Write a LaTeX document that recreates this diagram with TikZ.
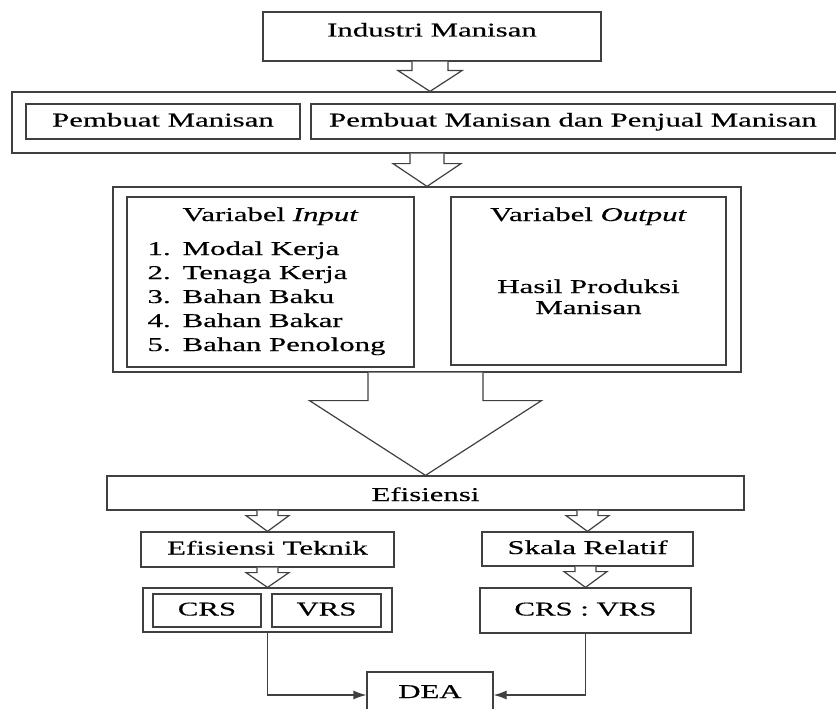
\documentclass[tikz,border=0pt]{standalone}
\usepackage{fontspec}
\setmainfont{Liberation Serif}[FakeStretch=1.58, FakeBold=0.4]
\usetikzlibrary{calc, arrows.meta}

% hollow block arrow pointing down: from, to, stem half, neck, head half
\newcommand{\blockdown}[5]{%
  \coordinate (#1-#2) at (#2.north |- #1.south);
  \draw[fat] ($(#1-#2)+(-#3,0)$) -- ($(#1-#2)+(-#3,#4)$) -- ($(#1-#2)+(-#5,#4)$) -- (#2.north)
    -- ($(#1-#2)+(#5,#4)$) -- ($(#1-#2)+(#3,#4)$) -- ($(#1-#2)+(#3,0)$);
}

\begin{document}
\begin{tikzpicture}[
        x=1pt, y=-1pt,
        font=\fontsize{19.5pt}{24pt}\selectfont,
        >={Latex[length=13pt, width=9pt]},
        line width=1.2pt,
        box/.style={
            draw=black!75,
            inner sep=0pt,
            align=center,
            text height=14pt,
            text depth=4pt
        },
        fat/.style={
            draw=black!75,
            fill=white
        }
    ]
    \useasboundingbox (0,0) rectangle (836,709);
    \clip (0,0) rectangle (836,709);

    % --- INDUSTRI ---
    \node[box, minimum width=338pt, minimum height=49pt, text depth=14pt] (ind) at (432,36.5) {Industri Manisan};

    % --- PEMBUAT ---
    \node[box, minimum width=836pt, minimum height=61pt] (grp) at (430,122.5) {};
    \node[box, minimum width=274pt, minimum height=35pt] (mk) at (163,121.5) {Pembuat Manisan};
    \node[box, minimum width=524pt, minimum height=35pt] (mkj) at (573,121.5) {Pembuat Manisan dan Penjual Manisan};

    % --- VARIABEL ---
    \node[box, minimum width=628pt, minimum height=185pt] (var) at (427,279.5) {};
    \node[box, minimum width=287pt, minimum height=170pt] (inp) at (270.5,282) {};
    \node[box, minimum width=275pt, minimum height=168pt] (outp) at (588.5,281) {};
    \node[anchor=base] (inptitle) at (270.5,221) {Variabel \textit{Input}};
    \node[anchor=base west, inner sep=0pt] (inplist) at (147,255) {%
    \begin{tabular}[t]{@{}l@{\hspace{12pt}}l@{}}
    1. & Modal Kerja\\
    2. & Tenaga Kerja\\
    3. & Bahan Baku\\
    4. & Bahan Bakar\\
    5. & Bahan Penolong
    \end{tabular}};
    \node[anchor=base] (outtitle) at (588.5,221) {Variabel \textit{Output}};
    \node[anchor=base, inner sep=0pt] (hasil) at (588.5,293) {%
    \begin{tabular}[t]{@{}c@{}}Hasil Produksi\\[-3pt]Manisan\end{tabular}};

    % --- EFISIENSI ---
    \node[box, minimum width=637pt, minimum height=34pt, text height=18pt, text depth=2pt] (eff) at (425.5,493) {Efisiensi};
    \node[box, minimum width=253pt, minimum height=35pt] (tek) at (267.5,549.5) {Efisiensi Teknik};
    \node[box, minimum width=211pt, minimum height=34pt] (skala) at (587.5,549) {Skala Relatif};

    % --- CRS / VRS ---
    \node[box, minimum width=249pt, minimum height=44pt] (both) at (267.5,610) {};
    \node[box, minimum width=108pt, minimum height=33pt] (crs) at (207,610.5) {CRS};
    \node[box, minimum width=109pt, minimum height=33pt] (vrs) at (326.5,610.5) {VRS};
    \node[box, minimum width=211pt, minimum height=45pt] (ratio) at (585.5,610.5) {CRS : VRS};

    % --- DEA ---
    \node[box, minimum width=126pt, minimum height=46pt, text height=12pt, text depth=6pt] (dea) at (430,695) {DEA};

    % --- BLOCK ARROWS ---
    \blockdown{ind}{grp}{18}{9}{32}
    \blockdown{grp}{var}{17}{10}{34}
    \blockdown{var}{eff}{57.5}{28}{116}
    \blockdown{eff}{tek}{10.5}{5}{21.5}
    \blockdown{eff}{skala}{10.5}{5}{21.5}
    \blockdown{tek}{both}{10.5}{5}{21.5}
    \blockdown{skala}{ratio}{10.5}{5}{21.5}

    % --- ARROWS ---
    \draw[->, draw=black!75] (both.south) |- (dea.west);
    \draw[->, draw=black!75] (ratio.south) |- (dea.east);

\end{tikzpicture}
\end{document}
